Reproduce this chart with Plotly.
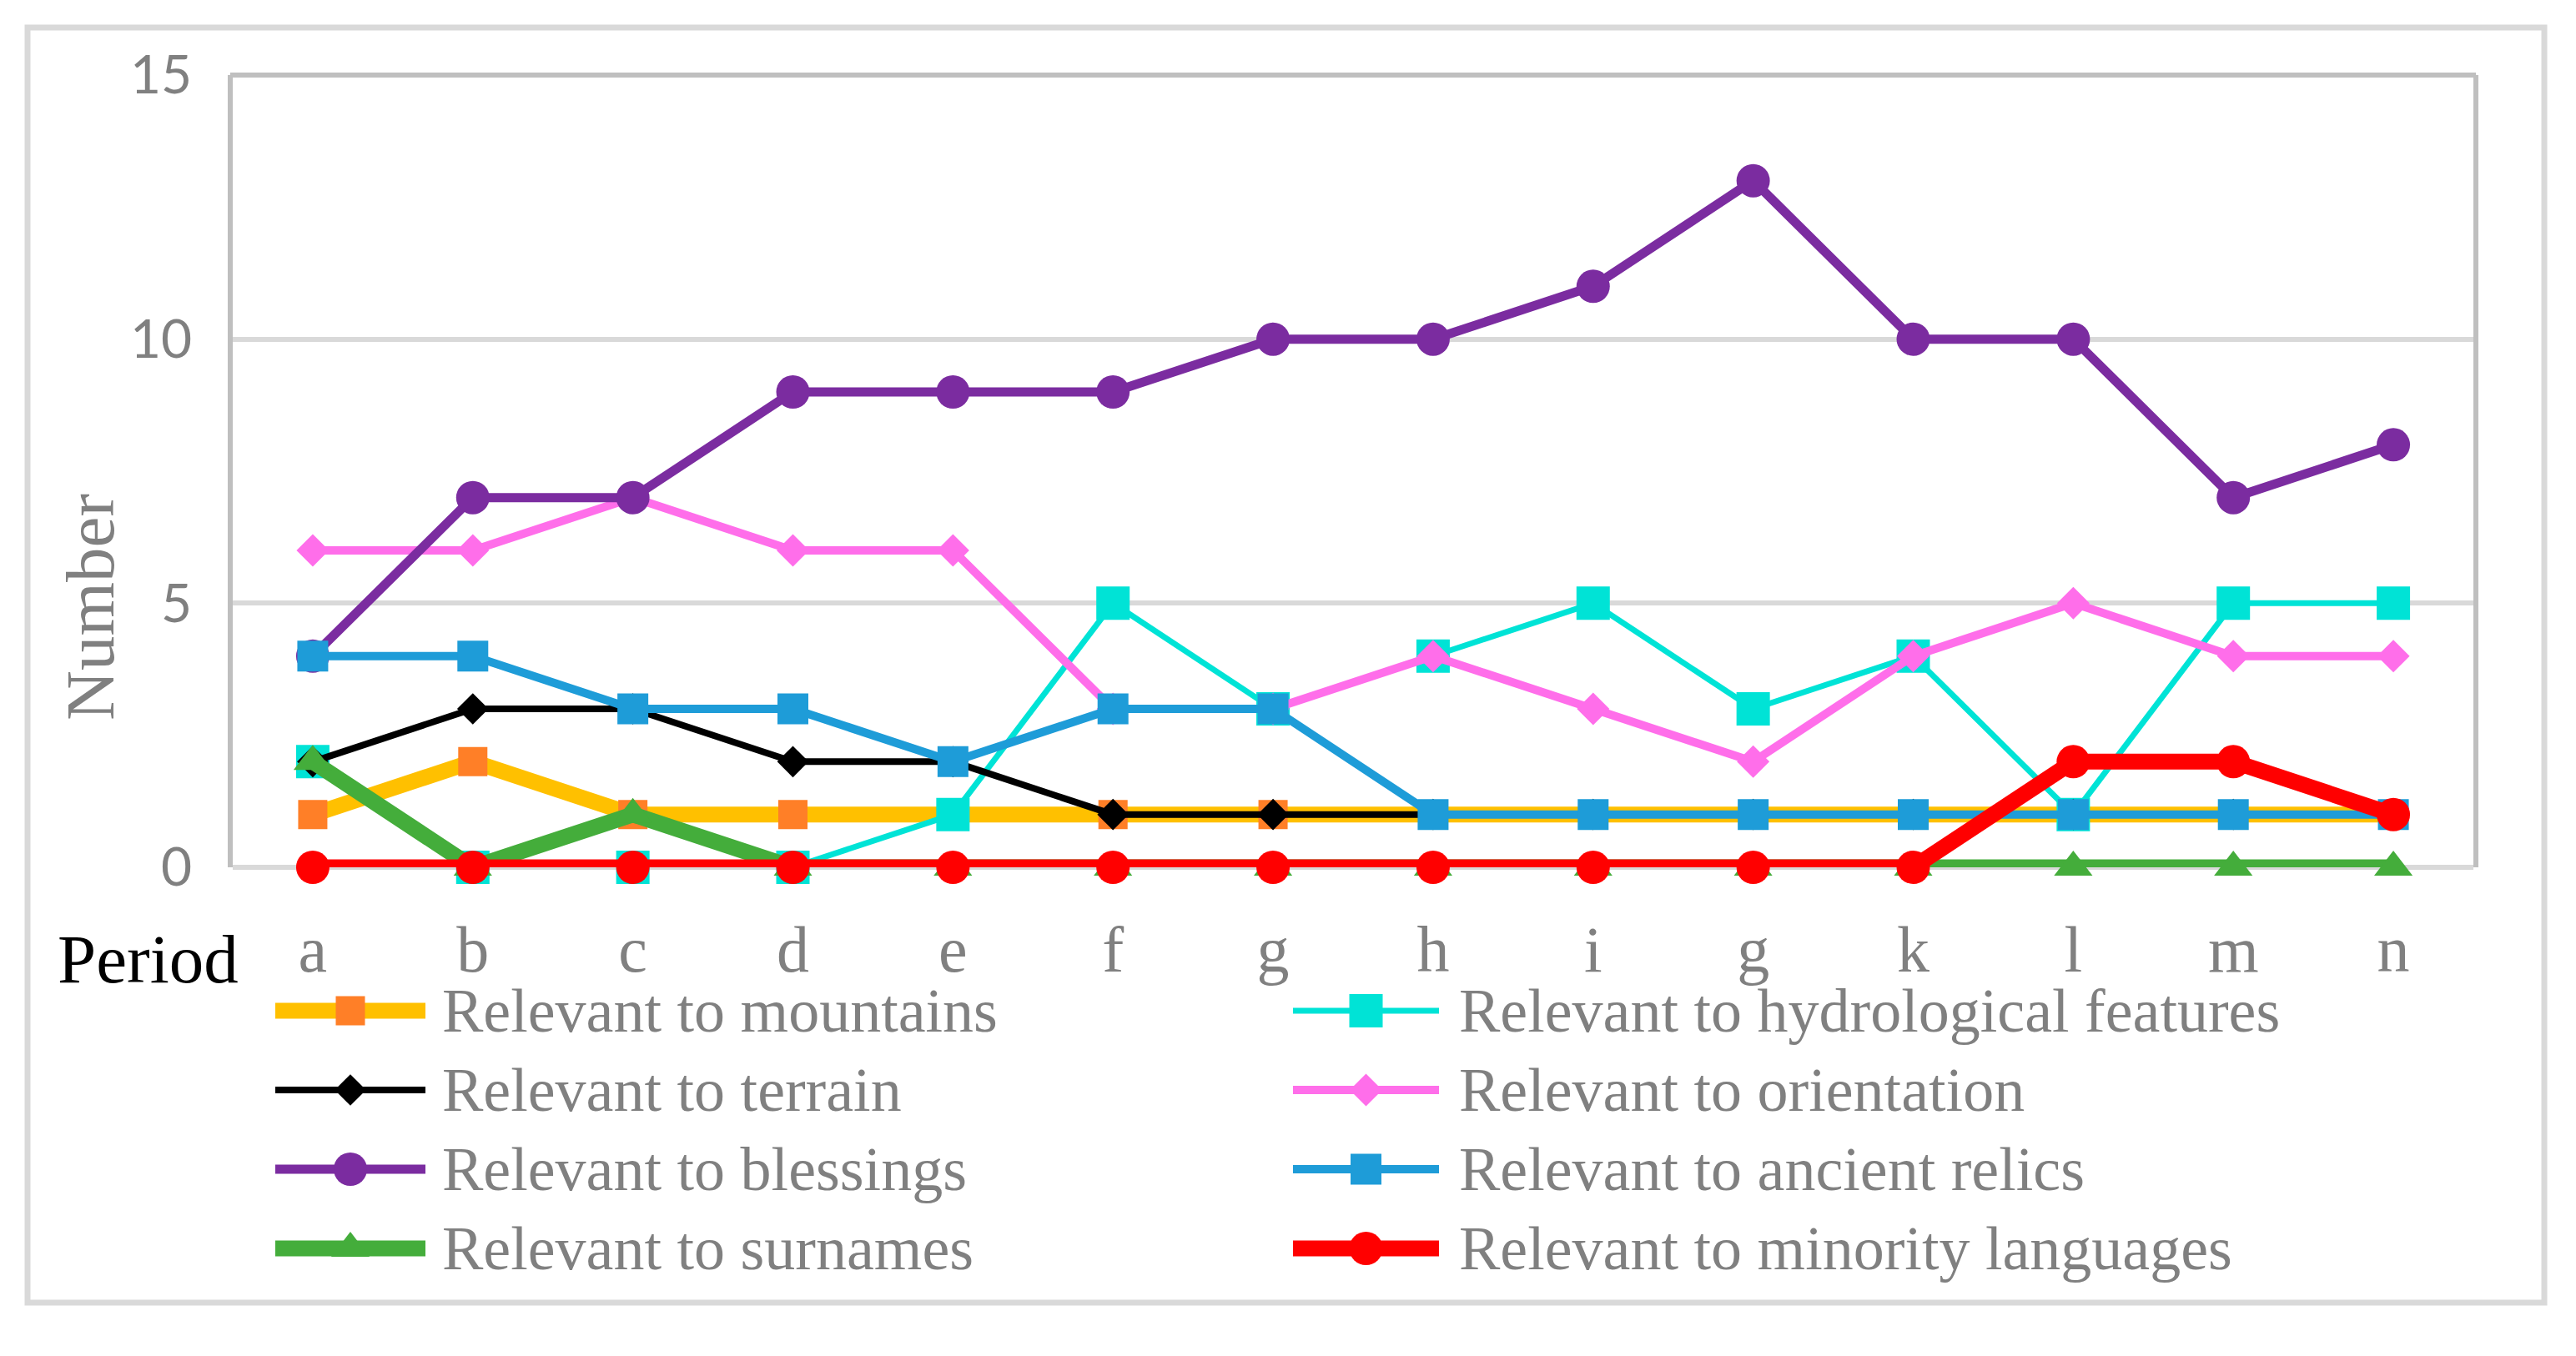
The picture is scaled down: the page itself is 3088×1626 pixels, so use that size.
import plotly.graph_objects as go

# ---------------- data ----------------
periods = ["a", "b", "c", "d", "e", "f", "g", "h", "i", "g", "k", "l", "m", "n"]

series_names = [
    "Relevant to mountains",
    "Relevant to hydrological features",
    "Relevant to terrain",
    "Relevant to orientation",
    "Relevant to blessings",
    "Relevant to ancient relics",
    "Relevant to surnames",
    "Relevant to minority languages",
]

mountains = [1, 2, 1, 1, 1, 1, 1, 1, 1, 1, 1, 1, 1, 1]
hydrological = [2, 0, 0, 0, 1, 5, 3, 4, 5, 3, 4, 1, 5, 5]
terrain = [2, 3, 3, 2, 2, 1, 1, 1, 1, 1, 1, 1, 1, 1]
orientation = [6, 6, 7, 6, 6, 3, 3, 4, 3, 2, 4, 5, 4, 4]
blessings = [4, 7, 7, 9, 9, 9, 10, 10, 11, 13, 10, 10, 7, 8]
ancient_relics = [4, 4, 3, 3, 2, 3, 3, 1, 1, 1, 1, 1, 1, 1]
surnames = [2, 0, 1, 0, 0, 0, 0, 0, 0, 0, 0, 0, 0, 0]
minority_languages = [0, 0, 0, 0, 0, 0, 0, 0, 0, 0, 0, 2, 2, 1]

y_ticks = [0, 5, 10, 15]

series_values = [mountains, hydrological, terrain, orientation,
                 blessings, ancient_relics, surnames, minority_languages]

# ---------------- styles ----------------
styles = [
    dict(line="#FFC000", lw=19, marker="#FF7F27", sym="square", ms=35),
    dict(line="#00E3D6", lw=7, marker="#00E3D6", sym="square", ms=40),
    dict(line="#000000", lw=8, marker="#000000", sym="diamond", ms=29),
    dict(line="#FF6EEA", lw=10, marker="#FF6EEA", sym="diamond", ms=30),
    dict(line="#7B2CA0", lw=11, marker="#7B2CA0", sym="circle", ms=40),
    dict(line="#1E9CD8", lw=10, marker="#1E9CD8", sym="square", ms=37),
    dict(line="#44AD3B", lw=19, marker="#44AD3B", sym="triangle-up", ms=40),
    dict(line="#FF0000", lw=19, marker="#FF0000", sym="circle", ms=40),
]

# page body has an 8px default margin: keep the figure inside the window
OFF = 8
W, H = 3088 - 2 * OFF, 1626 - 2 * OFF
PL, PR, PT, PB = 279, 2965, 90, 1040   # plot area in window pixels

SERIF = "Liberation Serif, Times New Roman, serif"
GRAY = "#808080"

fig = go.Figure()

x_idx = list(range(len(periods)))
for name, vals, st in zip(series_names, series_values, styles):
    fig.add_trace(go.Scatter(
        x=x_idx, y=vals, name=name, mode="lines+markers",
        line=dict(color=st["line"], width=st["lw"]),
        marker=dict(color=st["marker"], symbol=st["sym"], size=st["ms"],
                    opacity=1, line=dict(width=0)),
        cliponaxis=False, showlegend=False,
        xaxis="x", yaxis="y",
    ))

# ---------------- custom legend (window-pixel space axis) ----------------
leg_line_x = [(330, 510), (1550, 1725)]
leg_text_x = [528, 1747]
leg_row_y0, leg_row_dy = 1212, 95
annotations = []
for i, (name, st) in enumerate(zip(series_names, styles)):
    row, col = divmod(i, 2)
    x0, x1 = leg_line_x[col]
    yc = leg_row_y0 + leg_row_dy * row
    fig.add_trace(go.Scatter(
        x=[x0, (x0 + x1) / 2, x1], y=[yc, yc, yc], mode="lines+markers",
        line=dict(color=st["line"], width=st["lw"]),
        marker=dict(color=st["marker"], symbol=st["sym"], opacity=1,
                    size=[0, st["ms"], 0], line=dict(width=0)),
        showlegend=False, hoverinfo="skip", cliponaxis=False,
        xaxis="x2", yaxis="y2",
    ))
    annotations.append(dict(
        x=leg_text_x[col], y=yc, xref="x2", yref="y2", text=name,
        showarrow=False, xanchor="left", yanchor="middle",
        font=dict(family=SERIF, size=74, color=GRAY),
    ))

# "Period" label and y-axis title
annotations.append(dict(
    x=177, y=1150, xref="x2", yref="y2", text="Period", showarrow=False,
    xanchor="center", yanchor="middle",
    font=dict(family=SERIF, size=83, color="#000000"),
))
annotations.append(dict(
    x=108, y=728, xref="x2", yref="y2", text="Number", showarrow=False,
    textangle=-90, xanchor="center", yanchor="middle",
    font=dict(family=SERIF, size=83, color=GRAY),
))

shapes = [
    # outer frame
    dict(type="rect", xref="x2", yref="y2", x0=33, y0=33, x1=3050, y1=1562,
         line=dict(color="#D9D9D9", width=7), fillcolor="rgba(0,0,0,0)",
         layer="below"),
    # top border of plot area
    dict(type="line", xref="x2", yref="y2", x0=PL - 3, y0=PT, x1=PR + 3, y1=PT,
         line=dict(color="#BFBFBF", width=6), layer="below"),
]

fig.update_layout(
    width=W, height=H,
    margin=dict(l=0, r=0, t=0, b=0, pad=0, autoexpand=False),
    paper_bgcolor="white", plot_bgcolor="rgba(0,0,0,0)",
    showlegend=False,
    annotations=annotations, shapes=shapes,
    xaxis=dict(
        domain=[(PL - OFF) / W, (PR - OFF) / W],
        range=[-0.5, len(periods) - 0.5],
        tickmode="array", tickvals=x_idx, ticktext=periods,
        showgrid=False, zeroline=False, showline=False, ticks="",
        ticklabelstandoff=46, automargin=False,
        tickfont=dict(family=SERIF, size=78, color=GRAY),
        anchor="y", fixedrange=True,
    ),
    yaxis=dict(
        domain=[1 - (PB - OFF) / H, 1 - (PT - OFF) / H], range=[0, 15],
        tickmode="array", tickvals=y_ticks,
        showgrid=True, gridcolor="#D9D9D9", gridwidth=6,
        zeroline=True, zerolinecolor="#D9D9D9", zerolinewidth=6,
        showline=True, linecolor="#BFBFBF", linewidth=6, mirror=True,
        ticks="", ticklabelstandoff=30, automargin=False,
        tickfont=dict(family="Lato, Carlito, sans-serif", size=64, color=GRAY),
        anchor="x", fixedrange=True,
    ),
    xaxis2=dict(domain=[0, 1], range=[OFF, OFF + W], visible=False,
                anchor="y2", fixedrange=True, automargin=False),
    yaxis2=dict(domain=[0, 1], range=[OFF + H, OFF], visible=False,
                anchor="x2", fixedrange=True, automargin=False),
)

fig.write_html("out.html")
